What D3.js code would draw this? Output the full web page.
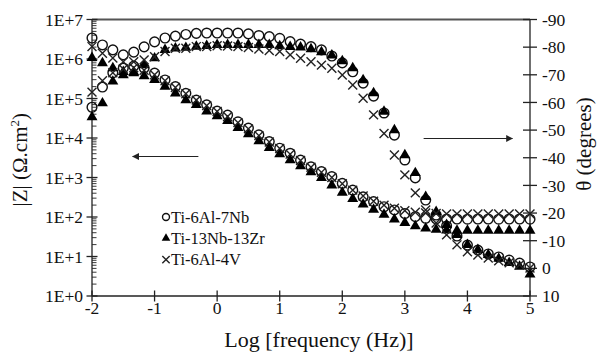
<!DOCTYPE html>
<html>
<head>
<meta charset="utf-8">
<script src="https://cdn.jsdelivr.net/npm/d3@7"></script>
<style>
  body { margin: 0; background: #fff; }
  svg text { font-family: "Liberation Serif", "Times New Roman", serif; fill: #111; }
</style>
</head>
<body>
<div id="eis-chart"></div>
<script>
// log10 of frequency (Hz), 6 points per decade
const logFreq = [-2, -1.833, -1.667, -1.5, -1.333, -1.167, -1, -0.833, -0.667, -0.5, -0.333, -0.167,
  0, 0.167, 0.333, 0.5, 0.667, 0.833, 1, 1.167, 1.333, 1.5, 1.667, 1.833, 2, 2.167, 2.333, 2.5,
  2.667, 2.833, 3, 3.167, 3.333, 3.5, 3.667, 3.833, 4, 4.167, 4.333, 4.5, 4.667, 4.833, 5];

// |Z| in ohm.cm2
const zNb = [6.0e4, 1.95e5, 4.47e5, 5.9e5, 6.6e5, 5.9e5, 4.4e5, 2.95e5, 2.0e5, 1.35e5, 9.1e4, 6.9e4,
  4.8e4, 3.8e4, 2.57e4, 1.78e4, 1.2e4, 8.1e3, 5.5e3, 4.1e3, 2.75e3, 1.86e3, 1.41e3, 1.05e3, 708, 479,
  324, 245, 182, 151, 123, 102, 93, 90, 89, 89, 88, 89, 89, 88, 89, 89, 88];
const zZr = [3.4e4, 7.6e4, 2.7e5, 3.9e5, 4.4e5, 3.7e5, 2.95e5, 2.0e5, 1.35e5, 9.1e4, 6.9e4, 4.7e4,
  3.6e4, 2.7e4, 1.82e4, 1.26e4, 8.3e3, 5.6e3, 3.9e3, 2.75e3, 1.95e3, 1.38e3, 977, 631, 417, 288,
  209, 155, 115, 87, 71, 59, 52, 48, 46, 45, 45, 45, 45, 45, 45, 45, 45];
const zV = [1.45e5, 2.8e5, 4.5e5, 5.6e5, 6.0e5, 5.2e5, 4.0e5, 2.8e5, 1.9e5, 1.32e5, 9.1e4, 6.6e4,
  4.7e4, 3.5e4, 2.45e4, 1.7e4, 1.15e4, 7.9e3, 5.4e3, 3.9e3, 2.7e3, 1.82e3, 1.35e3, 1.0e3, 692, 479,
  339, 251, 200, 166, 145, 132, 126, 122, 120, 120, 119, 120, 120, 119, 120, 120, 120];

// phase angle in degrees
const thNb = [-83.3, -80.8, -79.0, -77.2, -78.2, -80.1, -81.9, -83.3, -84.0, -84.6, -85.0, -85.1,
  -85.1, -85.1, -85.1, -84.8, -84.2, -83.8, -83.2, -82.0, -81.1, -80.2, -79.0, -76.8, -74.3, -71.1,
  -67.0, -62.3, -56.2, -48.2, -39.2, -32.7, -24.7, -19.3, -15.3, -11.7, -8.4, -6.6, -5.2, -4.1, -3.0, -1.9, -0.5];
const thZr = [-76.1, -74.2, -72.4, -71.1, -71.0, -73.5, -76.0, -79.0, -79.6, -79.8, -80.2, -80.5,
  -80.8, -80.8, -80.8, -80.8, -80.8, -80.8, -80.4, -80.1, -79.9, -79.3, -78.2, -77.0, -75.0, -72.4,
  -68.1, -63.4, -56.7, -50.0, -41.0, -34.5, -25.9, -20.4, -15.7, -12.1, -8.5, -6.7, -4.9, -3.5, -2.0, -0.6, 2.2];
const thV = [-80.2, -77.8, -76.1, -74.7, -74.7, -75.4, -76.5, -78.4, -79.6, -79.6, -80.2, -80.2,
  -80.5, -80.4, -80.2, -79.9, -79.3, -78.8, -78.4, -77.2, -76.0, -74.7, -73.5, -72.4, -69.9, -66.3,
  -61.5, -55.5, -48.8, -41.0, -33.8, -27.3, -21.1, -16.4, -12.1, -8.5, -6.0, -4.8, -3.7, -2.7, -2.0, -1.3, -0.1];

const xTicks = [-2, -1, 0, 1, 2, 3, 4, 5];
const zTicks = [1, 1e1, 1e2, 1e3, 1e4, 1e5, 1e6, 1e7];
const zTickLabels = ['1E+0', '1E+1', '1E+2', '1E+3', '1E+4', '1E+5', '1E+6', '1E+7'];
const thetaTicks = [-90, -80, -70, -60, -50, -40, -30, -20, -10, 0, 10];
const alloys = ['Ti-6Al-7Nb', 'Ti-13Nb-13Zr', 'Ti-6Al-4V'];

const width = 597, height = 353;
const margin = { top: 19.5, right: 67, bottom: 57, left: 92 };
const plotBottom = height - margin.bottom;
const plotRight = width - margin.right;

const x = d3.scaleLinear().domain([-2, 5]).range([margin.left, plotRight]);
const yZ = d3.scaleLog().domain([1, 1e7]).range([plotBottom, margin.top]);
const yTheta = d3.scaleLinear().domain([-90, 10]).range([margin.top, plotBottom]);

// an "x" marker for d3.symbol
const symbolX = {
  draw(ctx, size) {
    const r = Math.sqrt(size) / 2;
    ctx.moveTo(-r, -r); ctx.lineTo(r, r);
    ctx.moveTo(r, -r); ctx.lineTo(-r, r);
  }
};

const markerStyles = [
  { type: d3.symbolCircle, size: 74, legendSize: 38, fill: 'none', stroke: '#111', width: 1.4 },
  { type: d3.symbolTriangle, size: 52, legendSize: 32, fill: '#000', stroke: 'none', width: 0 },
  { type: symbolX, size: 80, legendSize: 54, fill: 'none', stroke: '#222', width: 1.4 }
];

const svg = d3.select('#eis-chart').append('svg')
  .attr('width', width)
  .attr('height', height)
  .attr('viewBox', `0 0 ${width} ${height}`);

// frame: top border, left, bottom and right axes
svg.append('line')
  .attr('x1', margin.left).attr('x2', plotRight)
  .attr('y1', margin.top).attr('y2', margin.top)
  .attr('stroke', '#555').attr('stroke-width', 1.8);

const axisColor = '#222';

// left log axis
const gLeft = svg.append('g');
gLeft.append('line')
  .attr('x1', margin.left).attr('x2', margin.left)
  .attr('y1', margin.top).attr('y2', plotBottom)
  .attr('stroke', axisColor).attr('stroke-width', 1.3);

const minorTicks = [];
zTicks.slice(0, -1).forEach(d => {
  for (let m = 2; m <= 9; m++) minorTicks.push(d * m);
});
gLeft.selectAll('.minor').data(minorTicks).enter().append('line')
  .attr('class', 'minor')
  .attr('x1', margin.left).attr('x2', margin.left + 4.5)
  .attr('y1', d => yZ(d)).attr('y2', d => yZ(d))
  .attr('stroke', axisColor).attr('stroke-width', 0.9);

gLeft.selectAll('.major').data(zTicks).enter().append('line')
  .attr('class', 'major')
  .attr('x1', margin.left - 5.5).attr('x2', margin.left + 5.5)
  .attr('y1', d => yZ(d)).attr('y2', d => yZ(d))
  .attr('stroke', axisColor).attr('stroke-width', 1.3);

gLeft.selectAll('text').data(zTicks).enter().append('text')
  .attr('x', margin.left - 9)
  .attr('y', d => yZ(d))
  .attr('dy', '0.35em')
  .attr('text-anchor', 'end')
  .style('font-size', '17.5px')
  .text((d, i) => zTickLabels[i]);

// bottom axis
const gBottom = svg.append('g');
gBottom.append('line')
  .attr('x1', margin.left).attr('x2', plotRight)
  .attr('y1', plotBottom).attr('y2', plotBottom)
  .attr('stroke', axisColor).attr('stroke-width', 1.3);
gBottom.selectAll('.tick').data(xTicks).enter().append('line')
  .attr('class', 'tick')
  .attr('x1', d => x(d)).attr('x2', d => x(d))
  .attr('y1', plotBottom - 5.5).attr('y2', plotBottom + 5.5)
  .attr('stroke', axisColor).attr('stroke-width', 1.3);
gBottom.selectAll('text').data(xTicks).enter().append('text')
  .attr('x', d => x(d))
  .attr('y', plotBottom + 18)
  .attr('text-anchor', 'middle')
  .style('font-size', '17.5px')
  .text(d => d);

// right phase axis
const gRight = svg.append('g');
gRight.append('line')
  .attr('x1', plotRight).attr('x2', plotRight)
  .attr('y1', margin.top).attr('y2', plotBottom)
  .attr('stroke', axisColor).attr('stroke-width', 1.3);
gRight.selectAll('.tick').data(thetaTicks).enter().append('line')
  .attr('class', 'tick')
  .attr('x1', plotRight - 7).attr('x2', plotRight + 7)
  .attr('y1', d => yTheta(d)).attr('y2', d => yTheta(d))
  .attr('stroke', axisColor).attr('stroke-width', 1.3);
gRight.selectAll('text').data(thetaTicks).enter().append('text')
  .attr('x', plotRight + 12)
  .attr('y', d => yTheta(d))
  .attr('dy', '0.35em')
  .style('font-size', '17.5px')
  .text(d => d);

// axis titles
const leftTitle = svg.append('text')
  .attr('transform', `translate(27, ${(margin.top + plotBottom) / 2 + 2}) rotate(-90)`)
  .attr('text-anchor', 'middle')
  .style('font-size', '21px');
leftTitle.append('tspan').text('|Z| (Ω.cm');
leftTitle.append('tspan').attr('dy', -8).style('font-size', '13px').text('2');
leftTitle.append('tspan').attr('dy', 8).text(')');

svg.append('text')
  .attr('transform', `translate(591, 144) rotate(-90)`)
  .attr('text-anchor', 'middle')
  .style('font-size', '21px')
  .text('θ (degrees)');

svg.append('text')
  .attr('x', 319)
  .attr('y', 347)
  .attr('text-anchor', 'middle')
  .style('font-size', '22px')
  .text('Log [frequency (Hz)]');

// arrows showing which axis each curve family belongs to
svg.append('defs').append('marker')
  .attr('id', 'arrow-head')
  .attr('viewBox', '0 0 10 10')
  .attr('refX', 9).attr('refY', 5)
  .attr('markerWidth', 7).attr('markerHeight', 7)
  .attr('markerUnits', 'userSpaceOnUse')
  .attr('orient', 'auto')
  .append('path').attr('d', 'M0,0L10,5L0,10z').attr('fill', '#222');

svg.append('line')
  .attr('x1', x(-0.3)).attr('x2', x(-1.35))
  .attr('y1', 156.5).attr('y2', 156.5)
  .attr('stroke', '#222').attr('stroke-width', 1.1)
  .attr('marker-end', 'url(#arrow-head)');
svg.append('line')
  .attr('x1', x(3.3)).attr('x2', x(4.72))
  .attr('y1', 138.5).attr('y2', 138.5)
  .attr('stroke', '#222').attr('stroke-width', 1.1)
  .attr('marker-end', 'url(#arrow-head)');

// data markers
const series = [
  { name: alloys[0], z: zNb, theta: thNb, style: markerStyles[0] },
  { name: alloys[1], z: zZr, theta: thZr, style: markerStyles[1] },
  { name: alloys[2], z: zV, theta: thV, style: markerStyles[2] }
];

series.forEach(s => {
  const sym = d3.symbol().type(s.style.type).size(s.style.size);
  const g = svg.append('g').attr('class', 'series');
  const pts = logFreq.map((f, i) => [f, s.z[i], s.theta[i]]);

  g.selectAll('.zmark').data(pts).enter().append('path')
    .attr('class', 'zmark')
    .attr('transform', d => `translate(${x(d[0])},${yZ(d[1])})`)
    .attr('d', sym)
    .attr('fill', s.style.fill)
    .attr('stroke', s.style.stroke)
    .attr('stroke-width', s.style.width);

  g.selectAll('.thmark').data(pts).enter().append('path')
    .attr('class', 'thmark')
    .attr('transform', d => `translate(${x(d[0])},${yTheta(d[2])})`)
    .attr('d', sym)
    .attr('fill', s.style.fill)
    .attr('stroke', s.style.stroke)
    .attr('stroke-width', s.style.width);
});

// legend
const legend = svg.append('g').attr('transform', 'translate(166, 217)');
series.forEach((s, i) => {
  const row = legend.append('g').attr('transform', `translate(0, ${i * 21.3})`);
  row.append('path')
    .attr('d', d3.symbol().type(s.style.type).size(s.style.legendSize))
    .attr('fill', s.style.fill)
    .attr('stroke', s.style.stroke)
    .attr('stroke-width', s.style.width);
  row.append('text')
    .attr('x', 5)
    .attr('dy', '0.35em')
    .style('font-size', '16.5px')
    .text(s.name);
});
</script>
</body>
</html>
